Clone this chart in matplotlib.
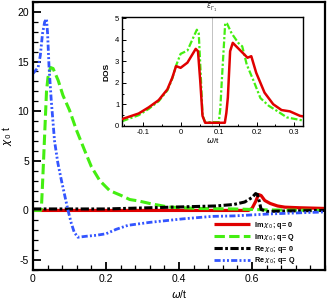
import numpy as np
import matplotlib
matplotlib.use('Agg')
import matplotlib.pyplot as plt
from matplotlib.ticker import MultipleLocator
import matplotlib.transforms as mtransforms

plt.rcParams['font.family'] = ['Liberation Sans', 'DejaVu Sans']
plt.rcParams['mathtext.fontset'] = 'dejavusans'
plt.rcParams['axes.unicode_minus'] = False

### Data

# Im chi_0 ; q = 0
w_im0 = [0.0, 0.59, 0.60, 0.61, 0.618, 0.625, 0.635, 0.65, 0.67, 0.69, 0.73, 0.80]
im0 = [0.0, 0.0, 0.2, 0.9, 1.6, 1.5, 1.0, 0.7, 0.45, 0.33, 0.27, 0.2]

# Im chi_0 ; q = Q
w_imQ = [0.0, 0.021, 0.023, 0.027, 0.032, 0.037, 0.041, 0.048, 0.055, 0.069, 0.082,
         0.10, 0.119, 0.142, 0.16, 0.183, 0.21, 0.242, 0.265, 0.29, 0.32, 0.37,
         0.45, 0.55, 0.60, 0.65, 0.80]
imQ = [0.0, 0.0, 0.2, 3.4, 7.7, 12.0, 13.4, 14.4, 14.3, 13.1, 11.6,
       10.1, 8.1, 6.0, 4.4, 3.0, 2.0, 1.5, 1.1, 0.95, 0.7, 0.35,
       0.2, 0.15, 0.1, 0.05, 0.0]

# Re chi_0 ; q = 0
w_re0 = [0.0, 0.1, 0.2, 0.3, 0.4, 0.5, 0.55, 0.58, 0.60, 0.61, 0.615, 0.62,
         0.625, 0.64, 0.70, 0.80]
re0 = [0.15, 0.15, 0.15, 0.25, 0.35, 0.45, 0.6, 0.85, 1.3, 1.7, 1.6, 0.9,
       0.1, -0.1, -0.05, 0.0]

# Re chi_0 ; q = Q
w_reQ = [0.0, 0.014, 0.02, 0.026, 0.032, 0.037, 0.040, 0.044, 0.050, 0.059,
         0.068, 0.078, 0.087, 0.096, 0.105, 0.113, 0.123, 0.146, 0.174, 0.20,
         0.228, 0.26, 0.32, 0.41, 0.49, 0.55, 0.60, 0.65, 0.70, 0.80]
reQ = [13.8, 14.4, 15.6, 17.8, 19.0, 19.3, 17.8, 14.4, 11.1, 7.0,
       4.8, 3.0, 1.5, 0.0, -1.3, -2.2, -2.7, -2.6, -2.5, -2.35,
       -1.9, -1.5, -1.2, -0.85, -0.6, -0.55, -0.45, -0.35, -0.28, -0.15]

# inset: DOS, red (solid) and green (dash-dot)
w_dos_r = [-0.156, -0.112, -0.085, -0.059, -0.036, -0.023, -0.013, -0.001, 0.017,
           0.039, 0.045, 0.051, 0.057, 0.064, 0.116, 0.120, 0.124, 0.130, 0.137,
           0.163, 0.176, 0.186, 0.199, 0.221, 0.244, 0.266, 0.288, 0.315, 0.322]
dos_r = [0.32, 0.58, 0.87, 1.2, 1.7, 2.24, 2.78, 2.7, 2.94,
         3.58, 3.47, 2.09, 0.47, 0.15, 0.15, 0.6, 1.32, 3.47, 3.86,
         3.4, 3.17, 3.24, 2.47, 1.55, 1.01, 0.74, 0.68, 0.47, 0.45]

w_dos_g = [-0.156, -0.112, -0.085, -0.059, -0.036, -0.023, -0.013, -0.001, 0.017,
           0.035, 0.042, 0.047, 0.052, 0.057, 0.064, 0.100, 0.104, 0.108, 0.117,
           0.122, 0.134, 0.152, 0.162, 0.174, 0.192, 0.210, 0.232, 0.254, 0.280,
           0.315, 0.322]
dos_g = [0.22, 0.5, 0.8, 1.15, 1.65, 2.2, 2.8, 3.35, 3.5,
         4.2, 4.47, 4.3, 2.5, 0.5, 0.18, 0.18, 0.8, 2.1, 4.78,
         4.75, 4.3, 3.85, 3.7, 2.85, 2.1, 1.3, 0.94, 0.7, 0.4,
         0.28, 0.26]

eps_gamma = 0.082   # position of the vertical marker in the inset

# colours
c_red = '#e00000'
c_green = '#44ee11'
c_black = '#000000'
c_blue = '#3355ff'

### Figure

fig = plt.figure(figsize=(3.27, 3.01), dpi=100)
ax = fig.add_axes([33/327, 31/301, 292/327, 268/301])

ax.plot(w_im0, im0, color=c_red, lw=2.3, solid_capstyle='butt',
        label=r'Im$\,\chi_{\,0}$; q= 0')
l_g, = ax.plot(w_imQ, imQ, color=c_green, lw=2.2, label=r'Im$\,\chi_{\,0}$; q= Q')
l_g.set_dashes([3.4, 1.4])
l_k, = ax.plot(w_re0, re0, color=c_black, lw=2.2, label=r'Re$\,\chi_{\,0}$; q= 0')
l_k.set_dashes([2.7, 0.8, 0.9, 0.8])
l_b, = ax.plot(w_reQ, reQ, color=c_blue, lw=2.0, label=r'Re$\,\chi_{\,0}$; q= Q')
l_b.set_dashes([2.2, 0.8, 0.7, 0.8, 0.7, 0.8])

ax.set_xlim(0, 0.8)
ax.set_ylim(-6, 21)
ax.set_xticks([0, 0.2, 0.4, 0.6])
ax.set_xticklabels(['0', '0.2', '0.4', '0.6'])
ax.set_yticks([-5, 0, 5, 10, 15, 20])
ax.xaxis.set_minor_locator(MultipleLocator(0.04))
ax.yaxis.set_minor_locator(MultipleLocator(1))
ax.tick_params(which='major', direction='in', top=False, right=False,
               labelsize=7.5, width=1.3, length=5.5, pad=3)
ax.tick_params(which='minor', direction='in', top=False, right=False,
               width=0.9, length=3.5)
for s in ax.spines.values():
    s.set_linewidth(1.6)

ax.set_xlabel(r'$\omega$/t', fontsize=7.5, labelpad=3)
ax.set_ylabel(r'$\chi_{\,0}$ t', fontsize=7.5, labelpad=2)

ax.legend(loc='center', bbox_to_anchor=(0.76, 0.10), frameon=False,
          prop={'size': 5.2, 'weight': 'bold'}, handlelength=5.0,
          handletextpad=0.6, labelspacing=0.12, borderpad=0.1)

### Inset

axi = fig.add_axes([122/327, 175/301, 180.7/327, 109/301])
axi.set_facecolor('white')
axi.axvline(eps_gamma, color='#aaaaaa', lw=0.5, zorder=1)
axi.plot(w_dos_r, dos_r, color=c_red, lw=1.8, zorder=3)
l_gi, = axi.plot(w_dos_g, dos_g, color=c_green, lw=1.6, zorder=2)
l_gi.set_dashes([3.0, 1.0, 1.0, 1.0])

axi.set_xlim(-0.156, 0.322)
axi.set_ylim(0.03, 5.06)
axi.set_xticks([-0.1, 0, 0.1, 0.2, 0.3])
axi.set_xticklabels(['-0.1', '0', '0.1', '0.2', '0.3'])
axi.set_yticks([0, 1, 2, 3, 4, 5])
axi.xaxis.set_minor_locator(MultipleLocator(0.05))
axi.yaxis.set_minor_locator(MultipleLocator(0.5))
axi.tick_params(which='both', direction='in', labelsize=5.5, width=0.7, pad=2)
axi.tick_params(which='major', length=3)
axi.tick_params(which='minor', length=1.5)
for s in axi.spines.values():
    s.set_linewidth(1.0)
axi.set_xlabel(r'$\omega$/t', fontsize=6, labelpad=0.5)
axi.set_ylabel('DOS', fontsize=6, fontweight='bold', labelpad=3)

trans = mtransforms.blended_transform_factory(axi.transData, axi.transAxes)
axi.text(eps_gamma, 1.03, r'$\bar{\varepsilon}_{\Gamma_1}$', transform=trans,
         ha='center', va='bottom', fontsize=5.5, color='#333333')

fig.savefig('out.png', dpi=100, facecolor='white')
